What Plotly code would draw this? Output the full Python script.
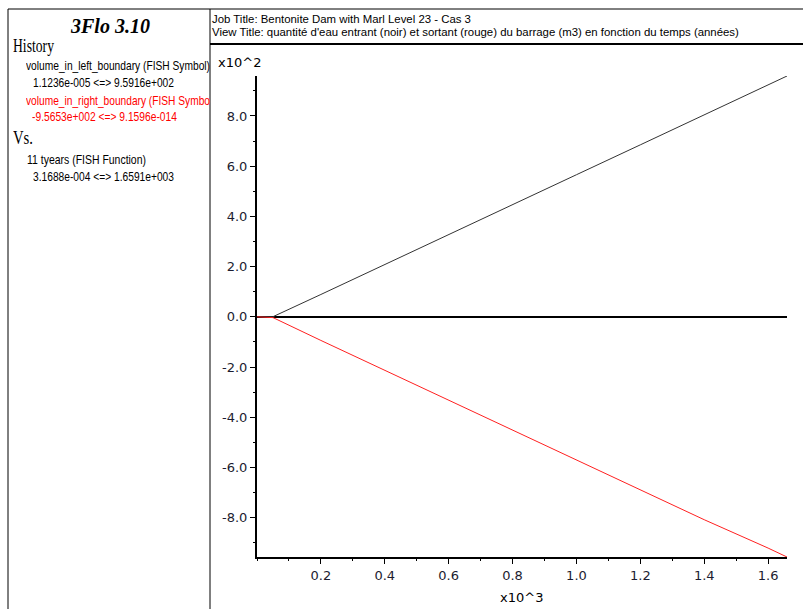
import json
import plotly.graph_objects as go

W, H = 803, 609

# ---- data (years, m3) ----
time_years = [0.31688, 50, 200, 400, 600, 800, 1000, 1200, 1400, 1600, 1659.1]
vol_left = [0.000011236, 0.5, 89, 209, 328, 447, 566, 685, 805, 924, 959.16]
vol_right = [0.0, -3, -94, -213, -332, -451, -570, -689, -808, -921, -956.53]

x_tickvals = [0.2, 0.4, 0.6, 0.8, 1.0, 1.2, 1.4, 1.6]
x_ticktext = ["0.2", "0.4", "0.6", "0.8", "1.0", "1.2", "1.4", "1.6"]
y_tickvals = [-8, -6, -4, -2, 0, 2, 4, 6, 8]
y_ticktext = ["-8.0", "-6.0", "-4.0", "-2.0", "0.0", "2.0", "4.0", "6.0", "8.0"]

x_scale = 1e3
y_scale = 1e2
x_plot = [t / x_scale for t in time_years]
left_plot = [v / y_scale for v in vol_left]
right_plot = [v / y_scale for v in vol_right]


def px(x):
    return x / W


def py(y):
    return 1 - y / H


fig = go.Figure()
fig.add_trace(go.Scatter(x=x_plot, y=left_plot, mode="lines",
                         line=dict(color="#333333", width=1), showlegend=False))
fig.add_trace(go.Scatter(x=x_plot, y=right_plot, mode="lines",
                         line=dict(color="#ff2020", width=1), showlegend=False))

tickfont = dict(family="DejaVu Sans, Verdana, sans-serif", size=13, color="#1c1c30")

fig.update_layout(
    width=W, height=H,
    margin=dict(l=0, r=0, t=0, b=0),
    paper_bgcolor="white", plot_bgcolor="white",
    xaxis=dict(
        domain=[px(257), px(787)],
        range=[0, max(x_plot)],
        showgrid=False, zeroline=False,
        showline=True, linecolor="black", linewidth=2,
        ticks="outside", ticklen=5, tickwidth=1, tickcolor="black",
        tickvals=x_tickvals, ticktext=x_ticktext, tickfont=tickfont,
        minor=dict(ticks="outside", ticklen=2, dtick=0.1, tick0=0, tickcolor="black", showgrid=False),
    ),
    yaxis=dict(
        domain=[py(557), py(76)],
        range=[min(right_plot), max(left_plot)],
        showgrid=False,
        zeroline=True, zerolinecolor="black", zerolinewidth=2,
        showline=True, linecolor="black", linewidth=2,
        ticks="outside", ticklen=5, tickwidth=1, tickcolor="black",
        tickvals=y_tickvals, ticktext=y_ticktext, tickfont=tickfont,
        minor=dict(ticks="outside", ticklen=2, dtick=1, tick0=0, tickcolor="black", showgrid=False),
    ),
)

# frame lines
line_black = dict(color="black", width=1)
shapes = [
    dict(type="line", xref="paper", yref="paper", x0=px(8), x1=px(803), y0=py(9), y1=py(9), line=line_black),
    dict(type="line", xref="paper", yref="paper", x0=px(8), x1=px(8), y0=py(9), y1=py(609), line=line_black),
    dict(type="line", xref="paper", yref="paper", x0=px(210), x1=px(210), y0=py(9), y1=py(609), line=line_black),
    dict(type="line", xref="paper", yref="paper", x0=px(210), x1=px(803), y0=py(44), y1=py(44),
         line=dict(color="black", width=2)),
]
fig.update_layout(shapes=shapes)

serif = "Liberation Serif, Times New Roman, serif"
sans = "Liberation Sans, Arial, sans-serif"
dejavu = "DejaVu Sans, Verdana, sans-serif"

# target rendered widths (px) to mimic the condensed fonts of the original
squeeze = {}


def ann(text, x, y, size, family, color="black", xanchor="left", width=None, plain=None):
    kw = {}
    if width:
        kw["width"] = width + 1
        squeeze[plain if plain else text] = width
    fig.add_annotation(text=text, x=px(x), y=py(y), xref="paper", yref="paper",
                       xanchor=xanchor, yanchor="middle", showarrow=False, align="left",
                       borderpad=0,
                       font=dict(family=family, size=size, color=color), **kw)


ann("<b><i>3Flo 3.10</i></b>", 110, 26, 20, serif, xanchor="center")
ann("History", 12, 46, 18, serif, width=41)
ann("volume_in_left_boundary (FISH Symbol)", 25, 66, 13, sans, width=184)
ann("1.1236e-005 &lt;=&gt; 9.5916e+002", 32, 83, 13, sans, width=141,
    plain="1.1236e-005 <=> 9.5916e+002")
ann("volume_in_right_boundary (FISH Symbo", 25, 100, 13, sans, color="#ff0000", width=184)
ann("-9.5653e+002 &lt;=&gt; 9.1596e-014", 31, 117, 13, sans, color="#ff0000", width=145,
    plain="-9.5653e+002 <=> 9.1596e-014")
ann("Vs.", 12, 138, 18, serif, width=20)
ann("11 tyears (FISH Function)", 26, 159, 13, sans, width=119)
ann("3.1688e-004 &lt;=&gt; 1.6591e+003", 32, 176, 13, sans, width=141,
    plain="3.1688e-004 <=> 1.6591e+003")

ann("Job Title: Bentonite Dam with Marl Level 23 - Cas 3", 211, 19, 11.4, sans)
ann("View Title: quantité d'eau entrant (noir) et sortant (rouge) du barrage (m3) en fonction du temps (années)",
    211, 32, 11.4, sans)

ann("x10^2", 217, 63, 13, dejavu)
ann("x10^3", 499, 597, 13, dejavu)

post = """
document.body.style.margin = '0';
document.body.style.overflow = 'hidden';
var widths = %s;
var gd = document.getElementById('{plot_id}');
function squeezeText() {
  document.querySelectorAll('text.annotation-text').forEach(function (t) {
    var w = widths[t.textContent];
    if (w) {
      t.setAttribute('textLength', w);
      t.setAttribute('lengthAdjust', 'spacingAndGlyphs');
    }
  });
}
squeezeText();
if (gd && gd.on) { gd.on('plotly_afterplot', squeezeText); }
""" % json.dumps(squeeze)

fig.write_html("out.html", post_script=post, config={"displayModeBar": False})
